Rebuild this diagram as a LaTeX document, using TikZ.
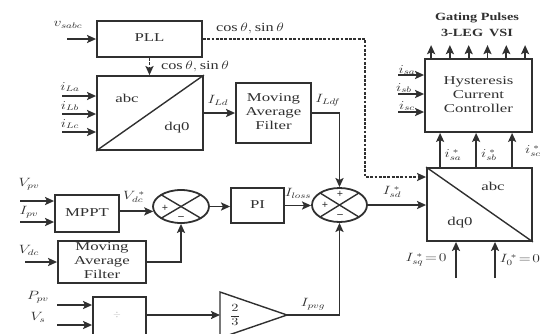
\documentclass[tikz,border=0pt]{standalone}
\usepackage{fontspec}
\setmainfont{Liberation Serif}
\usetikzlibrary{arrows.meta,shapes.geometric,calc}
\definecolor{ln}{HTML}{303030}
\newcommand\wl[1]{\scalebox{1.3}[1]{#1}}
\newcommand\wb[1]{\scalebox{1.4}[1]{\begin{tabular}{@{}c@{}}#1\end{tabular}}}
\begin{document}
\begin{tikzpicture}[x=1pt,y=-1pt,color=ln,line width=1.8pt,
  box/.style={draw,rectangle,inner sep=0pt,align=center,font=\fontsize{12}{14}\selectfont},
  txt/.style={inner sep=0pt,font=\fontsize{12}{14}\selectfont},
  lbl/.style={inner sep=0pt,font=\fontsize{11.5}{13}\selectfont},
  arr/.style={-{Stealth[length=9pt,width=8pt,inset=1.8pt]}},
  dsh/.style={dash pattern=on 2.8pt off 1.5pt},
  sgn/.style={inner sep=0pt,font=\fontsize{11}{11}\selectfont\bfseries},
  sumj/.style={draw,ellipse,inner sep=0pt}]
\useasboundingbox (0,0) rectangle (546,333);
\begin{scope}
\clip (0,0) rectangle (546,333);
% blocks
\node[box,minimum width=105pt,minimum height=36pt] (pll) at (149.5,39) {\wb{PLL}};
\node[box,minimum width=106pt,minimum height=74pt] (t1) at (150,113) {};
\draw[line width=1.4pt] (t1.south west) -- (t1.north east);
\node[txt] (t1a) at (127,100) {\wb{abc}};
\node[txt] (t1b) at (177,128) {\wb{dq0}};
\node[box,minimum width=75pt,minimum height=60pt] (maf1) at (273.5,113) {\wb{Moving\\Average\\Filter}};
\node[box,minimum width=107pt,minimum height=73pt] (hcc) at (478.5,95.5) {\wb{Hysteresis\\Current\\Controller}};
\node[box,minimum width=105pt,minimum height=73pt] (t2) at (479.5,204.5) {};
\draw[line width=1.4pt] (t2.north west) -- (t2.south east);
\node[txt] (t2a) at (493,188) {\wb{abc}};
\node[txt] (t2b) at (460,223) {\wb{dq0}};
\node[box,minimum width=53pt,minimum height=35pt] (pi) at (257.5,205.5) {\wb{PI}};
\node[box,minimum width=64pt,minimum height=37pt] (mppt) at (87,213.5) {\wb{MPPT}};
\node[box,minimum width=88pt,minimum height=42pt] (maf2) at (102,262) {\wb{Moving\\Average\\Filter}};
\node[box,minimum width=53pt,minimum height=48pt] (div) at (119.5,321) {};
\node[inner sep=0pt,text=gray!55,font=\fontsize{10}{10}\selectfont] (divs) at (117,315) {$\div$};
% gain triangle
\coordinate (triW) at (220,315);
\coordinate (triE) at (287,315);
\draw[line width=1.4pt] (220,292) -- (triE) -- (220,338) -- cycle;
\node[inner sep=0pt,font=\fontsize{11}{12}\selectfont] (gainl) at (235,315) {\wl{$\displaystyle\frac{2}{3}$}};
% summing junctions
\node[sumj,minimum width=55pt,minimum height=34pt] (s1) at (339.5,205) {};
\draw[line width=1.4pt] ($(s1)+(-19.4,-12)$) -- ($(s1)+(19.4,12)$);
\draw[line width=1.4pt] ($(s1)+(-19.4,12)$) -- ($(s1)+(19.4,-12)$);
\node[sgn] (s1p1) at (340,194) {+};
\node[sgn] (s1p2) at (325,205) {+};
\node[sgn] (s1m) at (340,216.5) {--};
\node[sumj,minimum width=56pt,minimum height=33pt] (s2) at (181,206.5) {};
\draw[line width=1.4pt] ($(s2)+(-19.8,-11.7)$) -- ($(s2)+(19.8,11.7)$);
\draw[line width=1.4pt] ($(s2)+(-19.8,11.7)$) -- ($(s2)+(19.8,-11.7)$);
\node[sgn] (s2p) at (165,208) {+};
\node[sgn] (s2m) at (181,218) {--};
% PLL connections
\coordinate (vin) at (67,39);
\draw[arr] (vin) -- (pll.west);
\node[lbl] (vinl) at (68,25) {\wl{$v_{sabc}$}};
\coordinate (dc1) at (365,39);
\coordinate (dc2) at (365,177);
\draw[dsh,arr] (pll.east |- dc1) -- (dc1) -- (dc2) -- (dc2 -| t2.west);
\node[lbl,font=\fontsize{12.5}{13}\selectfont] (cs1) at (250,28) {\wl{$\cos\theta,\sin\theta$}};
\draw[dsh,arr] (pll.south) -- (pll.south |- t1.north);
\node[lbl,font=\fontsize{12.5}{13}\selectfont] (cs2) at (195,66) {\wl{$\cos\theta,\sin\theta$}};
% load currents
\coordinate (ila) at (62,96);
\coordinate (ilb) at (62,114);
\coordinate (ilc) at (62,132);
\draw[arr] (ila) -- (ila -| t1.west);
\draw[arr] (ilb) -- (ilb -| t1.west);
\draw[arr] (ilc) -- (ilc -| t1.west);
\node[lbl] (ilal) at (70,87) {\wl{$i_{La}$}};
\node[lbl] (ilbl) at (70,106) {\wl{$i_{Lb}$}};
\node[lbl] (ilcl) at (70,124) {\wl{$i_{Lc}$}};
\draw[arr] (t1.east) -- (t1.east -| maf1.west);
\node[lbl] (ildl) at (218,100) {\wl{$I_{Ld}$}};
\draw[arr] (maf1.east) -| (s1.north);
\node[lbl] (ildfl) at (328,100) {\wl{$I_{Ldf}$}};
% dc loop
\coordinate (vpv) at (20,201);
\coordinate (ipv) at (20,222);
\draw[arr] (vpv) -- (vpv -| mppt.west);
\draw[arr] (ipv) -- (ipv -| mppt.west);
\node[lbl] (vpvl) at (29,184) {\wl{$V_{pv}$}};
\node[lbl] (ipvl) at (29,212) {\wl{$I_{pv}$}};
\draw[arr] (mppt.east |- s2.190) -- (s2.190);
\node[lbl] (vdcsl) at (134,197) {\wl{$V_{dc}^{\;*}$}};
\coordinate (vdc) at (25,262);
\draw[arr] (vdc) -- (maf2.west);
\node[lbl] (vdcl) at (29,250) {\wl{$V_{dc}$}};
\draw[arr] (maf2.east) -| (s2.south);
\draw[arr] (s2.east) -- (s2.east -| pi.west);
\draw[arr] (pi.east) -- (pi.east -| s1.west);
\node[lbl] (ilossl) at (298,193) {\wl{$I_{loss}$}};
\draw[arr] (s1.east) -- (s1.east -| t2.west);
\node[lbl] (isdl) at (392,192) {\wl{$I_{sd}^{\;*}$}};
% pv feedforward
\coordinate (ppv) at (57,305);
\coordinate (vs) at (57,325);
\draw[arr] (ppv) -- (ppv -| div.west);
\draw[arr] (vs) -- (vs -| div.west);
\node[lbl] (ppvl) at (38,297) {\wl{$P_{pv}$}};
\node[lbl] (vsl) at (38,317) {\wl{$V_{s}$}};
\draw[arr] (div.east |- triW) -- (triW);
\draw[arr] (triE) -| (s1.south);
\node[lbl] (ipvgl) at (313,304) {\wl{$I_{pvg}$}};
% dq0 -> abc references
\coordinate (isq) at (456,278);
\coordinate (i0) at (495,278);
\draw[arr] (isq) -- (isq |- t2.south);
\draw[arr] (i0) -- (i0 |- t2.south);
\node[lbl] (isql) at (426,260) {\wl{$I_{sq}^{\;*}\!=\!0$}};
\node[lbl] (i0l) at (520,260) {\wl{$I_{0}^{\;*}\!=\!0$}};
\foreach \dx/\nm/\lx/\ly/\sub in {14/a/453/155/sa, 50/b/489/155/sb, 86/c/533/151/sc}{
  \coordinate (ref\nm) at ($(t2.north west)+(\dx,0)$);
  \draw[arr] (ref\nm) -- (ref\nm |- hcc.south);
  \node[lbl] (refl\nm) at (\lx,\ly) {\wl{$i_{\sub}^{\;*}$}};
}
% sensed source currents
\coordinate (isa) at (398,75);
\coordinate (isb) at (398,94);
\coordinate (isc) at (398,112);
\draw[arr] (isa) -- (isa -| hcc.west);
\draw[arr] (isb) -- (isb -| hcc.west);
\draw[arr] (isc) -- (isc -| hcc.west);
\node[lbl] (isal) at (407,70) {\wl{$i_{sa}$}};
\node[lbl] (isbl) at (404,88) {\wl{$i_{sb}$}};
\node[lbl] (iscl) at (407,106) {\wl{$i_{sc}$}};
% gating pulses
\foreach \k in {0,...,5}{
  \coordinate (g\k) at ($(hcc.north west)+(7+18.8*\k,0)$);
  \draw[arr] (g\k) -- ++(0,-13);
}
\node[txt,font=\fontsize{11}{13}\selectfont\bfseries] (gp1) at (477,18) {\scalebox{1.3}[1]{Gating Pulses}};
\node[txt,font=\fontsize{11}{13}\selectfont\bfseries] (gp2) at (477,33) {\scalebox{1.3}[1]{3-LEG\, VSI}};
\end{scope}
\end{tikzpicture}
\end{document}
